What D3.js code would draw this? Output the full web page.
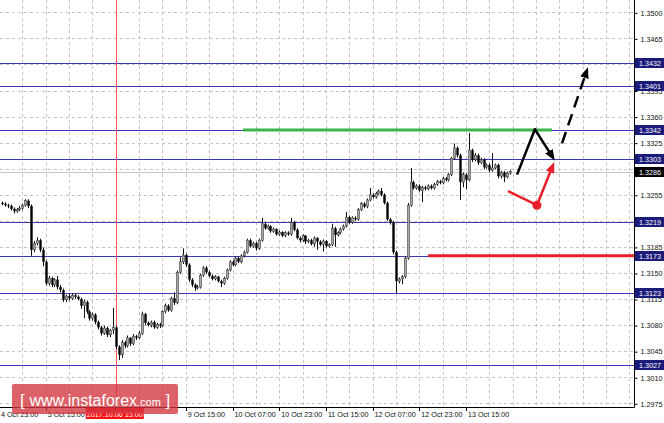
<!DOCTYPE html>
<html><head><meta charset="utf-8">
<script src="https://cdn.jsdelivr.net/npm/d3@7"></script>
<style>body{margin:0;background:#fff}svg{display:block}</style></head><body>
<svg id="c" width="664" height="423"></svg>
<script>
// ---- DATA (H1 candles, hour index 1..175 after "4 Oct 23:00") ----
const openP = [
1.3244,1.3243,1.3241,1.3240,1.3236,1.3233,1.3235,1.3237,1.3241,1.3247,
1.3240,1.3181,1.3190,1.3194,1.3181,1.3165,1.3136,1.3143,1.3134,1.3141,
1.3131,1.3127,1.3114,1.3119,1.3116,1.3120,1.3118,1.3115,1.3106,1.3111,
1.3098,1.3089,1.3094,1.3084,1.3077,1.3069,1.3076,1.3067,1.3073,1.3077,
1.3051,1.3040,1.3057,1.3052,1.3063,1.3055,1.3065,1.3063,1.3069,1.3095,
1.3083,1.3080,1.3084,1.3077,1.3081,1.3079,1.3098,1.3106,1.3100,1.3116,
1.3110,1.3151,1.3165,1.3174,1.3161,1.3141,1.3134,1.3130,1.3131,1.3147,
1.3157,1.3151,1.3146,1.3142,1.3145,1.3139,1.3136,1.3143,1.3154,1.3165,
1.3161,1.3170,1.3165,1.3173,1.3178,1.3194,1.3186,1.3190,1.3183,1.3194,
1.3216,1.3210,1.3213,1.3206,1.3209,1.3202,1.3205,1.3200,1.3204,1.3202,
1.3218,1.3208,1.3197,1.3194,1.3200,1.3192,1.3194,1.3189,1.3197,1.3192,
1.3188,1.3193,1.3186,1.3188,1.3210,1.3201,1.3204,1.3209,1.3213,1.3225,
1.3218,1.3224,1.3222,1.3235,1.3243,1.3239,1.3248,1.3255,1.3252,1.3257,
1.3260,1.3255,1.3244,1.3222,1.3218,1.3178,1.3139,1.3142,1.3145,1.3170,
1.3241,1.3272,1.3264,1.3267,1.3261,1.3265,1.3263,1.3267,1.3264,1.3269,
1.3273,1.3271,1.3277,1.3275,1.3282,1.3304,1.3318,1.3308,1.3272,1.3282,
1.3275,1.3315,1.3302,1.3308,1.3298,1.3302,1.3292,1.3295,1.3288,1.3291,
1.3295,1.3280,1.3285,1.3279,1.3284];
const closeP = [
1.3243,1.3241,1.3240,1.3236,1.3233,1.3235,1.3237,1.3241,1.3247,1.3240,
1.3181,1.3190,1.3194,1.3181,1.3165,1.3136,1.3143,1.3134,1.3141,1.3131,
1.3127,1.3114,1.3119,1.3116,1.3120,1.3118,1.3115,1.3106,1.3111,1.3098,
1.3089,1.3094,1.3084,1.3077,1.3069,1.3076,1.3067,1.3073,1.3077,1.3051,
1.3040,1.3057,1.3052,1.3063,1.3055,1.3065,1.3063,1.3069,1.3095,1.3083,
1.3080,1.3084,1.3077,1.3081,1.3079,1.3098,1.3106,1.3100,1.3116,1.3110,
1.3151,1.3165,1.3174,1.3161,1.3141,1.3134,1.3130,1.3131,1.3147,1.3157,
1.3151,1.3146,1.3142,1.3145,1.3139,1.3136,1.3143,1.3154,1.3165,1.3161,
1.3170,1.3165,1.3173,1.3178,1.3194,1.3186,1.3190,1.3183,1.3194,1.3216,
1.3210,1.3213,1.3206,1.3209,1.3202,1.3205,1.3200,1.3204,1.3202,1.3218,
1.3208,1.3197,1.3194,1.3200,1.3192,1.3194,1.3189,1.3197,1.3192,1.3188,
1.3193,1.3186,1.3188,1.3210,1.3201,1.3204,1.3209,1.3213,1.3225,1.3218,
1.3224,1.3222,1.3235,1.3243,1.3239,1.3248,1.3255,1.3252,1.3257,1.3260,
1.3255,1.3244,1.3222,1.3218,1.3178,1.3139,1.3142,1.3145,1.3170,1.3241,
1.3272,1.3264,1.3267,1.3261,1.3265,1.3263,1.3267,1.3264,1.3269,1.3273,
1.3271,1.3277,1.3275,1.3282,1.3304,1.3318,1.3308,1.3272,1.3282,1.3275,
1.3315,1.3302,1.3308,1.3298,1.3302,1.3292,1.3295,1.3288,1.3291,1.3295,
1.3280,1.3285,1.3279,1.3284,1.3286];
const highP = [
1.3246,1.3245,1.3243,1.3242,1.3238,1.3237,1.3240,1.3243,1.3249,1.3249,
1.3242,1.3193,1.3198,1.3196,1.3184,1.3167,1.3146,1.3145,1.3143,1.3146,
1.3134,1.3129,1.3121,1.3122,1.3123,1.3122,1.3120,1.3117,1.3114,1.3113,
1.3100,1.3097,1.3096,1.3086,1.3079,1.3079,1.3078,1.3075,1.3103,1.3079,
1.3053,1.3060,1.3059,1.3066,1.3064,1.3068,1.3067,1.3072,1.3098,1.3096,
1.3085,1.3086,1.3086,1.3083,1.3083,1.3100,1.3109,1.3108,1.3118,1.3124,
1.3153,1.3171,1.3183,1.3176,1.3163,1.3143,1.3136,1.3134,1.3149,1.3159,
1.3159,1.3153,1.3148,1.3147,1.3146,1.3141,1.3145,1.3156,1.3167,1.3167,
1.3172,1.3172,1.3175,1.3180,1.3196,1.3196,1.3192,1.3192,1.3196,1.3224,
1.3218,1.3215,1.3214,1.3211,1.3210,1.3207,1.3206,1.3206,1.3206,1.3224,
1.3220,1.3210,1.3199,1.3202,1.3201,1.3196,1.3196,1.3199,1.3198,1.3194,
1.3195,1.3194,1.3190,1.3216,1.3212,1.3206,1.3211,1.3215,1.3232,1.3227,
1.3226,1.3226,1.3237,1.3245,1.3245,1.3250,1.3264,1.3257,1.3259,1.3262,
1.3264,1.3257,1.3246,1.3224,1.3220,1.3180,1.3144,1.3147,1.3172,1.3244,
1.3291,1.3274,1.3269,1.3269,1.3267,1.3267,1.3269,1.3269,1.3271,1.3275,
1.3275,1.3279,1.3279,1.3284,1.3306,1.3324,1.3320,1.3310,1.3285,1.3284,
1.3338,1.3317,1.3311,1.3310,1.3305,1.3304,1.3297,1.3297,1.3311,1.3297,
1.3297,1.3287,1.3287,1.3286,1.3288];
const lowP = [
1.3241,1.3239,1.3237,1.3234,1.3230,1.3231,1.3233,1.3235,1.3239,1.3237,
1.3173,1.3178,1.3187,1.3178,1.3159,1.3133,1.3133,1.3131,1.3131,1.3128,
1.3124,1.3111,1.3111,1.3113,1.3114,1.3115,1.3113,1.3102,1.3089,1.3095,
1.3086,1.3086,1.3081,1.3074,1.3066,1.3067,1.3064,1.3064,1.3068,1.3048,
1.3033,1.3036,1.3049,1.3050,1.3052,1.3053,1.3060,1.3061,1.3067,1.3080,
1.3078,1.3077,1.3075,1.3075,1.3076,1.3077,1.3096,1.3098,1.3098,1.3107,
1.3108,1.3149,1.3162,1.3158,1.3138,1.3131,1.3126,1.3128,1.3129,1.3145,
1.3149,1.3144,1.3140,1.3140,1.3137,1.3131,1.3134,1.3141,1.3152,1.3159,
1.3159,1.3163,1.3163,1.3171,1.3176,1.3184,1.3184,1.3180,1.3181,1.3192,
1.3208,1.3208,1.3204,1.3204,1.3200,1.3200,1.3198,1.3198,1.3200,1.3200,
1.3206,1.3195,1.3191,1.3192,1.3189,1.3190,1.3187,1.3185,1.3181,1.3186,
1.3179,1.3184,1.3184,1.3186,1.3185,1.3199,1.3202,1.3207,1.3211,1.3216,
1.3216,1.3220,1.3220,1.3233,1.3237,1.3237,1.3246,1.3250,1.3250,1.3255,
1.3253,1.3242,1.3220,1.3215,1.3175,1.3123,1.3136,1.3135,1.3143,1.3168,
1.3239,1.3262,1.3262,1.3259,1.3245,1.3261,1.3261,1.3262,1.3262,1.3267,
1.3269,1.3269,1.3273,1.3273,1.3280,1.3302,1.3305,1.3248,1.3265,1.3262,
1.3273,1.3299,1.3300,1.3295,1.3296,1.3289,1.3290,1.3285,1.3286,1.3289,
1.3277,1.3277,1.3272,1.3277,1.3282];

const timeLabels = ["4 Oct 23:00","5 Oct 15:00","6 Oct 07:00","6 Oct 23:00","9 Oct 15:00","10 Oct 07:00","10 Oct 23:00","11 Oct 15:00","12 Oct 07:00","12 Oct 23:00","13 Oct 15:00"];
const timeLabelHours = [0,16,32,48,64,80,96,112,128,144,160];
const priceTicks = [1.3500,1.3465,1.3430,1.3395,1.3360,1.3325,1.3290,1.3255,1.3220,1.3185,1.3150,1.3115,1.3080,1.3045,1.3010,1.2975];
const levels = [1.3432,1.3401,1.3342,1.3303,1.3219,1.3173,1.3123,1.3027];
const lastPrice = 1.3286;
const crossHour = 40, crossLabel = "2017.10.06 15:00";
const greenLevel = {price:1.3342, from:83.6, to:189.4};
const redLevel = {price:1.3173, from:147, to:220};
const blackPath = [[177.5,1.3282],[183.6,1.3343],[188.8,1.3311]];
const dashedPath = [[192.9,1.3324],[200.8,1.3415]];
const redPath = [[174.4,1.3260],[184.3,1.3241],[189.1,1.3288]];

// ---- LAYOUT ----
const plotR = 634, plotB = 407;
const svg = d3.select("#c");
const x = d3.scaleLinear().domain([0,16]).range([-1,45.7]);
const y = d3.scaleLinear().domain([1.2975,1.3500]).range([403.3,12.3]);
const font = "'Liberation Sans', Arial, sans-serif";
const px = v => Math.round(v)+0.5;

svg.append("rect").attr("width",664).attr("height",423).attr("fill","#fff");
const defs = svg.append("defs");
defs.append("clipPath").attr("id","pc").append("rect").attr("x",0).attr("y",0).attr("width",plotR).attr("height",plotB);
function marker(id,color){
  defs.append("marker").attr("id",id).attr("viewBox","0 0 10 8").attr("refX",2).attr("refY",4)
    .attr("markerWidth",11).attr("markerHeight",9).attr("markerUnits","userSpaceOnUse").attr("orient","auto")
    .append("path").attr("d","M0,0L10,4L0,8z").attr("fill",color);
}
marker("ab","#000"); marker("ar","#e8202a");

const g = svg.append("g").attr("clip-path","url(#pc)");
// grid
const vHours = d3.range(8, 224, 8);
g.selectAll(".vg").data(vHours).join("line")
  .attr("x1",d=>px(x(d))).attr("x2",d=>px(x(d))).attr("y1",0).attr("y2",plotB)
  .attr("stroke","#c4c4c4").attr("stroke-dasharray","3,3");
g.selectAll(".hg").data(priceTicks).join("line")
  .attr("x1",0).attr("x2",plotR).attr("y1",d=>px(y(d))).attr("y2",d=>px(y(d)))
  .attr("stroke","#c4c4c4").attr("stroke-dasharray","3,3");

// level lines
g.selectAll(".lv").data(levels).join("line")
  .attr("x1",0).attr("x2",plotR).attr("y1",d=>px(y(d))).attr("y2",d=>px(y(d)))
  .attr("stroke","#3a3ab4").attr("stroke-width",1);
// last price line
g.append("line").attr("x1",0).attr("x2",plotR).attr("y1",px(y(lastPrice))).attr("y2",px(y(lastPrice)))
  .attr("stroke","#c8c8c8").attr("stroke-width",1);

// crosshair
g.append("line").attr("x1",px(x(crossHour))).attr("x2",px(x(crossHour))).attr("y1",0).attr("y2",plotB)
  .attr("stroke","#ff5050").attr("stroke-width",1);

// candles
const candles = closeP.map((c,i)=>({h:i+1,o:openP[i],c:c,hi:highP[i],lo:lowP[i]}));
const cg = g.append("g");
cg.selectAll(".wk").data(candles).join("line")
  .attr("x1",d=>px(x(d.h))).attr("x2",d=>px(x(d.h)))
  .attr("y1",d=>y(d.hi)).attr("y2",d=>y(d.lo)).attr("stroke","#111").attr("stroke-width",1);
cg.selectAll(".bd").data(candles).join("rect")
  .attr("x",d=>Math.round(x(d.h))-0.7).attr("width",2.4)
  .attr("y",d=>y(Math.max(d.o,d.c))).attr("height",d=>Math.max(1,Math.abs(y(d.o)-y(d.c))))
  .attr("fill",d=>d.c>=d.o?"#a8a8a8":"#000").attr("stroke",d=>d.c>=d.o?"#333":"none").attr("stroke-width",0.5);

// green and red horizontal levels
g.append("line").attr("x1",x(greenLevel.from)).attr("x2",x(greenLevel.to)).attr("y1",y(greenLevel.price)).attr("y2",y(greenLevel.price))
  .attr("stroke","#3cb44a").attr("stroke-width",3);
g.append("line").attr("x1",x(redLevel.from)).attr("x2",x(redLevel.to)).attr("y1",y(redLevel.price)).attr("y2",y(redLevel.price))
  .attr("stroke","#e8202a").attr("stroke-width",3);

// arrows
const ln = d3.line().x(d=>x(d[0])).y(d=>y(d[1]));
g.append("path").attr("d",ln(blackPath)).attr("fill","none").attr("stroke","#000").attr("stroke-width",2.5)
  .attr("stroke-linejoin","round").attr("marker-end","url(#ab)");
g.append("path").attr("d",ln(dashedPath)).attr("fill","none").attr("stroke","#000").attr("stroke-width",2.5)
  .attr("stroke-dasharray","12,7").attr("marker-end","url(#ab)");
g.append("path").attr("d",ln(redPath)).attr("fill","none").attr("stroke","#e8202a").attr("stroke-width",2.5)
  .attr("stroke-linejoin","round").attr("marker-end","url(#ar)");
g.append("circle").attr("cx",x(redPath[1][0])).attr("cy",y(redPath[1][1])).attr("r",4.5).attr("fill","#e8202a");

// axes borders
svg.append("line").attr("x1",plotR+0.5).attr("x2",plotR+0.5).attr("y1",0).attr("y2",plotB+0.5).attr("stroke","#000");
svg.append("line").attr("x1",0).attr("x2",plotR+0.5).attr("y1",plotB+0.5).attr("y2",plotB+0.5).attr("stroke","#000");

// price axis (labels hidden under level boxes are not printed, as in the reference)
const allLabels = levels.concat([lastPrice]);
const covered = t => allLabels.some(v => Math.abs(y(v)-y(t)) < 4);
const yAxis = d3.axisRight(y).tickValues(priceTicks)
  .tickFormat(t => covered(t) ? "" : d3.format(".4f")(t)).tickSize(3).tickPadding(3);
const ya = svg.append("g").attr("transform",`translate(${plotR+0.5},0.5)`).call(yAxis);
ya.select(".domain").remove();
ya.selectAll("line").attr("stroke","#000");
ya.selectAll("text").attr("font-family",font).attr("font-size",7.2).attr("fill","#111");

// level labels
const lab = svg.selectAll(".lb").data(levels.map(v=>({v,bg:"#1b1b7a"})).concat([{v:lastPrice,bg:"#000"}])).join("g")
  .attr("transform",d=>`translate(${plotR+1},${Math.round(y(d.v))})`);
lab.append("rect").attr("x",0).attr("y",-5).attr("width",29).attr("height",10).attr("fill",d=>d.bg);
lab.append("text").attr("x",4).attr("y",0).attr("dy","0.35em").text(d=>d3.format(".4f")(d.v))
  .attr("font-family",font).attr("font-size",7.2).attr("fill","#fff");

// time axis
const cx0 = x(crossHour);
const hidden = h => Math.abs(x(h) - cx0) < 26;   // fully under the crosshair time label
svg.selectAll(".tt").data(timeLabelHours).join("line")
  .attr("x1",d=>px(x(d))).attr("x2",d=>px(x(d))).attr("y1",plotB).attr("y2",plotB+4).attr("stroke","#000");
svg.selectAll(".tl").data(timeLabelHours.map((h,i)=>({h,t:timeLabels[i]})).filter(d=>!hidden(d.h))).join("text")
  .attr("x",d=>d.h===48 ? cx0+29 : x(d.h)+2).attr("y",plotB+9.5).text(d=>d.h===48 ? d.t.slice(2) : d.t)
  .attr("font-family",font).attr("font-size",7.2).attr("fill","#111");
// crosshair time label
svg.append("rect").attr("x",cx0-30).attr("y",plotB+1).attr("width",58).attr("height",11).attr("fill","#ff1010");
svg.append("text").attr("x",cx0-1).attr("y",plotB+9.5).attr("text-anchor","middle").text(crossLabel)
  .attr("font-family",font).attr("font-size",7.2).attr("fill","#fff");

// watermark
const wm = svg.append("g");
wm.append("rect").attr("x",12).attr("y",384).attr("width",166).attr("height",30).attr("rx",2)
  .attr("fill","#d3343e").attr("fill-opacity",0.78);
const wt = wm.append("text").attr("x",20).attr("y",406).attr("fill","#fff").attr("font-family",font);
wt.append("tspan").attr("font-size",17).text("[ ");
wt.append("tspan").attr("font-size",16).text("www.instaforex");
wt.append("tspan").attr("font-size",11).text(".com");
wt.append("tspan").attr("font-size",17).text(" ]");
</script></body></html>
